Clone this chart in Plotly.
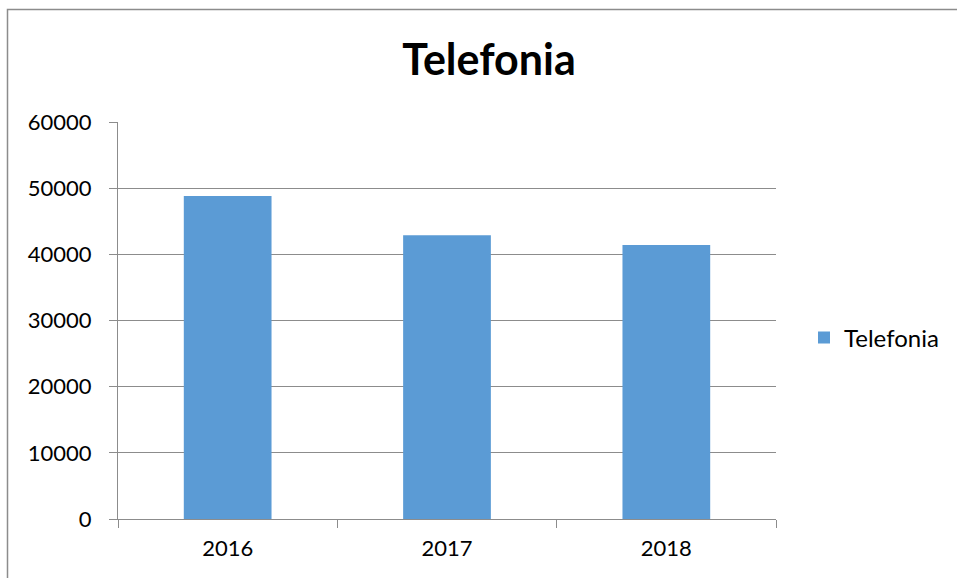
import plotly.graph_objects as go

# 數據
years = ["2016", "2017", "2018"]
telefonia = [48800, 42900, 41400]
y_ticks = [0, 10000, 20000, 30000, 40000, 50000, 60000]
y_labels = [str(v) for v in y_ticks]

W, H = 957, 578
L, R, T, B = 118, 776, 122, 519  # plot area in px

def px_x(p): return (p - L) / (R - L)
def px_y(p): return (B - p) / (B - T)

fig = go.Figure()
fig.add_trace(go.Bar(x=years, y=telefonia, name="Telefonia", marker=dict(color="#5b9bd5", line=dict(width=0)), width=0.4))

# 外框 (右邊和下邊超出畫面)
fig.add_shape(type="rect", xref="paper", yref="paper", x0=px_x(7.5), x1=px_x(980), y0=px_y(600), y1=px_y(9.5),
              line=dict(color="#8c8c8c", width=1.5), fillcolor="rgba(0,0,0,0)", layer="below")

fig.update_layout(
    width=W, height=H, paper_bgcolor="white", plot_bgcolor="white",
    margin=dict(l=L, r=W - R, t=T, b=H - B, autoexpand=False),
    font=dict(family="Lato, Open Sans, sans-serif", color="#000000"),
    title=dict(text="<b>Telefonia</b>", x=px_x(489), xref="paper", xanchor="center", y=1 - 60 / H, yanchor="middle", font=dict(size=43, color="#000000")),
    showlegend=True,
    legend=dict(x=px_x(804), y=px_y(338), xanchor="left", yanchor="middle", font=dict(size=24), bgcolor="rgba(0,0,0,0)", itemwidth=30),
    xaxis=dict(type="category", tickson="boundaries", ticks="outside", ticklen=8, tickcolor="#8c8c8c",
               showline=True, linecolor="#8c8c8c", linewidth=1, showgrid=False, tickfont=dict(size=22),
               ticklabelstandoff=10),
    yaxis=dict(range=[0, 60000], tickvals=y_ticks, ticktext=y_labels, ticks="outside", ticklen=8, tickcolor="#8c8c8c",
               showline=True, linecolor="#8c8c8c", linewidth=1, showgrid=True, gridcolor="#8c8c8c", gridwidth=1,
               zeroline=False, tickfont=dict(size=22), ticklabelstandoff=13),
)

fig.write_html("out.html", config={"displayModeBar": False}, post_script="document.body.style.margin='0px';")
